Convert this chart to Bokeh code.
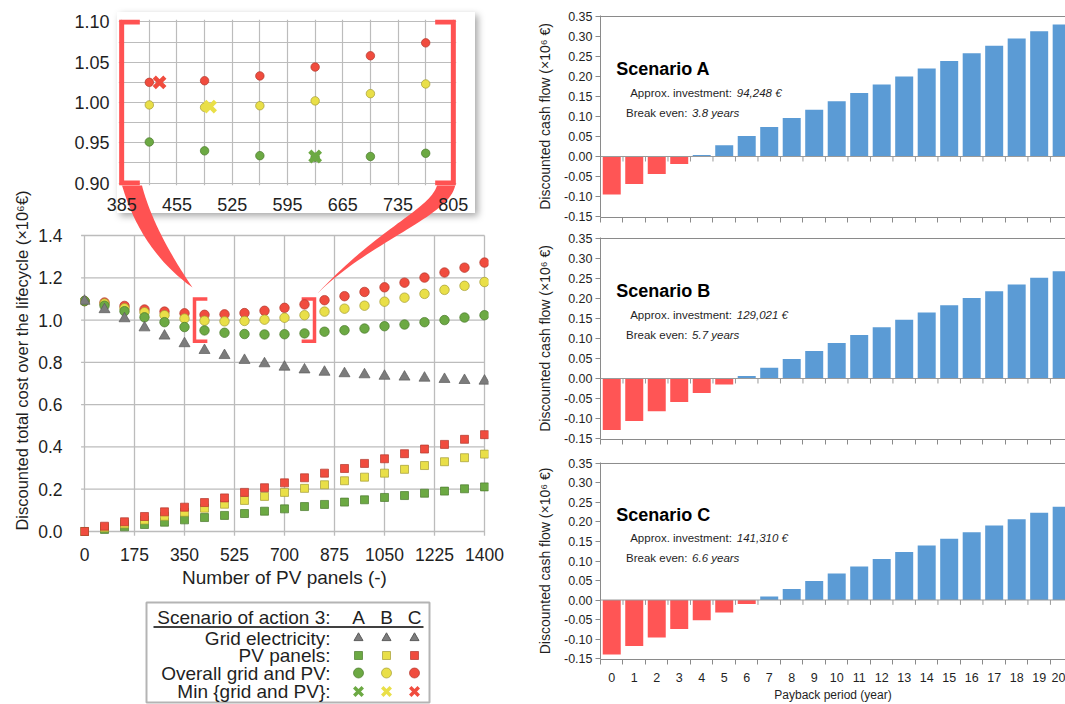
import numpy as np
from bokeh.plotting import figure
from bokeh.models import Range1d, FixedTicker, PrintfTickFormatter, Title, Span, Div
from bokeh.layouts import column, row
from bokeh.embed import file_html
from bokeh.resources import INLINE
from bokeh.core.properties import value

SANS = "Liberation Sans"

# ---------------- data: left panel (discounted total cost, x10^6 EUR)
panels = [0, 70, 140, 210, 280, 350, 420, 490, 560, 630, 700, 770, 840, 910, 980,
          1050, 1120, 1190, 1260, 1330, 1400]
grid_elec = [1.090, 1.050, 1.007, 0.964, 0.925, 0.889, 0.857, 0.833, 0.810, 0.794, 0.778,
             0.765, 0.754, 0.747, 0.742, 0.735, 0.731, 0.726, 0.720, 0.715, 0.712]
pv_A = [0.0, 0.010, 0.022, 0.033, 0.044, 0.055, 0.066, 0.076, 0.085, 0.096, 0.107,
        0.118, 0.128, 0.139, 0.150, 0.161, 0.170, 0.181, 0.191, 0.202, 0.211]
pv_B = [0.0, 0.018, 0.036, 0.054, 0.072, 0.091, 0.110, 0.129, 0.147, 0.166, 0.185,
        0.204, 0.221, 0.240, 0.257, 0.276, 0.294, 0.312, 0.330, 0.349, 0.366]
pv_C = [0.0, 0.025, 0.046, 0.071, 0.093, 0.115, 0.137, 0.159, 0.185, 0.207, 0.230,
        0.254, 0.276, 0.298, 0.322, 0.344, 0.368, 0.390, 0.412, 0.436, 0.458]
overall_A = [1.090, 1.068, 1.042, 1.013, 0.990, 0.967, 0.951, 0.940, 0.934, 0.932, 0.933,
             0.937, 0.945, 0.952, 0.960, 0.971, 0.979, 0.990, 1.000, 1.012, 1.023]
overall_B = [1.090, 1.078, 1.056, 1.037, 1.023, 1.007, 0.997, 0.994, 0.996, 1.002, 1.011,
             1.023, 1.040, 1.054, 1.068, 1.087, 1.106, 1.124, 1.143, 1.162, 1.180]
overall_C = [1.090, 1.083, 1.067, 1.050, 1.040, 1.032, 1.025, 1.027, 1.033, 1.044, 1.058,
             1.074, 1.094, 1.113, 1.133, 1.155, 1.177, 1.201, 1.225, 1.248, 1.272]
min_panels = [630, 497, 433]          # A, B, C
min_cost = [0.933, 0.995, 1.025]

x_ticks_main = [0, 175, 350, 525, 700, 875, 1050, 1225, 1400]
y_ticks_main = [0.0, 0.2, 0.4, 0.6, 0.8, 1.0, 1.2, 1.4]
inset_x_ticks = [385, 455, 525, 595, 665, 735, 805]
inset_x_minor = [420, 490, 560, 630, 700, 770]
inset_y_ticks = [0.90, 0.95, 1.00, 1.05, 1.10]
inset_y_minor = [0.925, 0.975, 1.025, 1.075]
zoom_x = [385, 805]
zoom_y = [0.90, 1.10]

# ---------------- data: right panels (discounted cash flow, x10^6 EUR)
years = [0, 1, 2, 3, 4, 5, 6, 7, 8, 9, 10, 11, 12, 13, 14, 15, 16, 17, 18, 19, 20]
cash_A = [-0.095, -0.069, -0.044, -0.019, 0.004, 0.028, 0.051, 0.074, 0.096, 0.117, 0.138,
          0.159, 0.180, 0.200, 0.220, 0.239, 0.258, 0.277, 0.295, 0.313, 0.330]
cash_B = [-0.129, -0.106, -0.082, -0.059, -0.036, -0.015, 0.006, 0.027, 0.049, 0.069, 0.089,
          0.109, 0.128, 0.147, 0.165, 0.183, 0.201, 0.218, 0.235, 0.252, 0.268]
cash_C = [-0.140, -0.118, -0.096, -0.074, -0.052, -0.032, -0.010, 0.009, 0.028, 0.049, 0.068,
          0.086, 0.105, 0.123, 0.140, 0.157, 0.174, 0.191, 0.207, 0.224, 0.239]
scenario_names = ["A", "B", "C"]
investments = ["94,248 €", "129,021 €", "141,310 €"]
break_even = ["3.8 years", "5.7 years", "6.6 years"]
y_ticks_cash = [-0.15, -0.10, -0.05, 0.0, 0.05, 0.10, 0.15, 0.20, 0.25, 0.30, 0.35]

# ---------------- colours
GREEN, GREEN_L = "#6ca943", "#4a7a2c"
YELLOW, YELLOW_L = "#e9df48", "#a49c34"
RED, RED_L = "#f04c3e", "#b2382c"
GRAY, GRAY_L = "#7c7c7c", "#5c5c5c"
CALL = "#ff5252"
GRIDC = "#bcbcbc"
BLUE = "#5b9bd5"
NEG = "#ff5555"
TXT = "#1f1f1f"

# all figures of the left column share the same side borders (bokeh aligns them)
LB, RB = 80, 32


def style_axis(ax, size, standoff=8):
    ax.axis_line_color = None
    ax.major_tick_line_color = None
    ax.minor_tick_line_color = None
    ax.major_label_text_font = SANS
    ax.major_label_text_font_size = size
    ax.major_label_text_color = TXT
    ax.major_label_standoff = standoff


# =============== main chart =================
main = figure(width=520, height=592, x_range=Range1d(-14, 1414), y_range=Range1d(-0.0284, 1.646),
              toolbar_location=None, output_backend="svg",
              min_border_left=LB, min_border_right=RB, min_border_top=183, min_border_bottom=55)
main.border_fill_alpha = 0
main.background_fill_alpha = 0
main.outline_line_color = None
main.grid.visible = False
main.xaxis.ticker = FixedTicker(ticks=x_ticks_main)
main.yaxis.ticker = FixedTicker(ticks=y_ticks_main)
main.yaxis.formatter = PrintfTickFormatter(format="%.1f")
style_axis(main.xaxis[0], "17.5px", standoff=4)
style_axis(main.yaxis[0], "17.5px", standoff=12)
main.xaxis.axis_label = "Number of PV panels (-)"
main.xaxis.axis_label_text_font = SANS
main.xaxis.axis_label_text_font_size = "19px"
main.xaxis.axis_label_text_font_style = "normal"
main.xaxis.axis_label_text_color = TXT
main.xaxis.axis_label_standoff = 3

# grid lines (with small outward ticks)
main.segment(x0=-12, y0=y_ticks_main, x1=x_ticks_main[-1], y1=y_ticks_main, line_color=GRIDC, line_width=1.3)
main.segment(x0=x_ticks_main, y0=-0.02, x1=x_ticks_main, y1=y_ticks_main[-1], line_color=GRIDC, line_width=1.3)

# zoom brackets on the main chart
arm = 45
main.multi_line(xs=[[zoom_x[0] + arm, zoom_x[0], zoom_x[0], zoom_x[0] + arm],
                    [zoom_x[1] - arm, zoom_x[1], zoom_x[1], zoom_x[1] - arm]],
                ys=[[zoom_y[0], zoom_y[0], zoom_y[1], zoom_y[1]]] * 2,
                line_color=CALL, line_width=3.5, line_join="miter")


# callout wedges (decoration), defined in page pixels, mapped to main-chart coordinates
def to_main(pts):
    pts = np.asarray(pts, float)
    return -14 + (pts[:, 0] - 80) * 3.5, -0.0284 + (537 - pts[:, 1]) / 211.42


def bez(ctrl, n=40):
    t = np.linspace(0, 1, n)[:, None]
    P = np.asarray(ctrl, float)
    if len(P) == 3:
        return (1 - t) ** 2 * P[0] + 2 * t * (1 - t) * P[1] + t ** 2 * P[2]
    return ((1 - t) ** 3 * P[0] + 3 * t * (1 - t) ** 2 * P[1]
            + 3 * t ** 2 * (1 - t) * P[2] + t ** 3 * P[3])


wl = np.vstack([bez([(121, 183), (140, 250), (192, 287)]),
                bez([(141, 183), (152, 228), (192, 287)])[::-1]])
wr = np.vstack([bez([(455, 183), (452, 215), (370, 240), (317, 293)]),
                bez([(437, 183), (432, 208), (380, 225), (317, 293)])[::-1]])
wlx, wly = to_main(wl)
wrx, wry = to_main(wr)
main.patches(xs=[list(wlx), list(wrx)], ys=[list(wly), list(wry)], fill_color=CALL, line_color=None)

# data marks
for pv, c, lc in [(pv_A, GREEN, GREEN_L), (pv_B, YELLOW, YELLOW_L), (pv_C, RED, RED_L)]:
    main.scatter(panels, pv, marker="square", size=8, fill_color=c, line_color=lc, line_width=0.7)
for ov, c, lc in [(overall_C, RED, RED_L), (overall_B, YELLOW, YELLOW_L), (overall_A, GREEN, GREEN_L)]:
    main.scatter(panels, ov, marker="circle", size=9.5, fill_color=c, line_color=lc, line_width=0.7)
main.scatter(panels, grid_elec, marker="triangle", size=11, fill_color=GRAY, line_color=GRAY_L, line_width=0.7)

main.add_layout(Title(text="Discounted total cost over the lifecycle (×10⁶€)", align="center",
                      offset=-22, text_font=SANS, text_font_size="16.5px",
                      text_font_style="normal", text_color=TXT), "left")
main.margin = (-213, 0, 0, 0)

# =============== inset =================
ins = figure(width=LB + 338 + RB, height=215, x_range=Range1d(381, 809), y_range=Range1d(0.897, 1.103),
             toolbar_location=None, output_backend="svg",
             min_border_left=LB, min_border_right=RB, min_border_top=19, min_border_bottom=30)
ins.border_fill_alpha = 0
ins.background_fill_color = "white"
ins.outline_line_color = None
tx = FixedTicker(ticks=inset_x_ticks, minor_ticks=inset_x_minor)
ty = FixedTicker(ticks=inset_y_ticks, minor_ticks=inset_y_minor)
ins.xaxis.ticker = tx
ins.yaxis.ticker = ty
ins.xgrid.ticker = tx
ins.ygrid.ticker = ty
ins.yaxis.formatter = PrintfTickFormatter(format="%.2f")
style_axis(ins.xaxis[0], "18px", standoff=6)
style_axis(ins.yaxis[0], "18px", standoff=3)
for g in (ins.xgrid[0], ins.ygrid[0]):
    g.grid_line_color = GRIDC
    g.grid_line_width = 1.2
    g.minor_grid_line_color = GRIDC
    g.minor_grid_line_width = 1.2
for ov, c, lc in [(overall_C, RED, RED_L), (overall_B, YELLOW, YELLOW_L), (overall_A, GREEN, GREEN_L)]:
    ins.scatter(panels, ov, marker="circle", size=8.5, fill_color=c, line_color=lc, line_width=0.7)
ins.scatter(min_panels, min_cost, marker="x", size=15, line_width=4.5,
            line_color=[GREEN, YELLOW, RED])
iarm = 23
ins.multi_line(xs=[[zoom_x[0] + iarm, zoom_x[0], zoom_x[0], zoom_x[0] + iarm],
                   [zoom_x[1] - iarm, zoom_x[1], zoom_x[1], zoom_x[1] - iarm]],
               ys=[[zoom_y[0], zoom_y[0], zoom_y[1], zoom_y[1]]] * 2,
               line_color=CALL, line_width=5, line_join="miter")
ins.margin = (-592, 0, 0, 118 - LB)

# shadowed box behind the inset
box = Div(text="", width=358, height=201, margin=(12, 0, 0, 117),
          styles={"background-color": "white", "box-shadow": "3px 3px 7px rgba(0,0,0,0.35)"})

# =============== legend table =================
leg = figure(width=520, height=112, x_range=Range1d(LB, 520 - RB), y_range=Range1d(112, 0),
             toolbar_location=None, output_backend="svg",
             min_border_left=LB, min_border_right=RB, min_border_top=0, min_border_bottom=0)
leg.axis.visible = False
leg.grid.visible = False
leg.outline_line_color = None
leg.quad(left=146, right=429, top=10, bottom=110, fill_color=None, line_color="#b4b4b4", line_width=2)
col_x = [358, 386, 414]
row_y = [45.5, 63, 80.5, 99]
leg.text(x=[330], y=[24.5], text=["Scenario of action 3:"], text_align="right", text_baseline="middle",
         text_font=value(SANS), text_font_size="19px", text_color=TXT)
leg.text(x=col_x, y=[24.5] * 3, text=scenario_names, text_align="center", text_baseline="middle",
         text_font=value(SANS), text_font_size="19px", text_color=TXT)
leg.segment(x0=[153], y0=[34.5], x1=[423], y1=[34.5], line_color="black", line_width=1.5)
leg.text(x=[330] * 4, y=row_y,
         text=["Grid electricity:", "PV panels:", "Overall grid and PV:", "Min {grid and PV}:"],
         text_align="right", text_baseline="middle",
         text_font=value(SANS), text_font_size="19px", text_color=TXT)
sc_fill = [GREEN, YELLOW, RED]
sc_line = [GREEN_L, YELLOW_L, RED_L]
leg.scatter(col_x, [row_y[0]] * 3, marker="triangle", size=9, fill_color=GRAY, line_color=GRAY_L)
leg.scatter(col_x, [row_y[1]] * 3, marker="square", size=8, fill_color=sc_fill, line_color=sc_line, line_width=0.7)
leg.scatter(col_x, [row_y[2]] * 3, marker="circle", size=10, fill_color=sc_fill, line_color=sc_line, line_width=0.7)
leg.scatter(col_x, [row_y[3]] * 3, marker="x", size=12, line_width=3.5, line_color=sc_fill)
leg.margin = (377, 0, 0, 0)

left = column(box, main, ins, leg)


# =============== right panels =================
def cash_fig(vals, idx, height, top, bottom, last):
    p = figure(width=545, height=height, x_range=Range1d(-0.5, 20.17), y_range=Range1d(-0.1525, 0.3525),
               toolbar_location=None, output_backend="svg",
               min_border_left=80, min_border_right=0, min_border_top=top, min_border_bottom=bottom)
    p.outline_line_color = None
    p.grid.visible = False
    p.yaxis.ticker = FixedTicker(ticks=y_ticks_cash)
    p.yaxis.formatter = PrintfTickFormatter(format="%.2f")
    ya = p.yaxis[0]
    ya.axis_line_color = "#8a8a8a"
    ya.major_tick_line_color = "#8a8a8a"
    ya.major_tick_out = 5
    ya.major_tick_in = 0
    ya.minor_tick_line_color = None
    ya.major_label_text_font = SANS
    ya.major_label_text_font_size = "12.5px"
    ya.major_label_text_color = TXT
    ya.major_label_standoff = 3
    ya.axis_label = "Discounted cash flow (×10⁶ €)"
    ya.axis_label_text_font = SANS
    ya.axis_label_text_font_size = "14px"
    ya.axis_label_text_font_style = "normal"
    ya.axis_label_text_color = TXT
    ya.axis_label_standoff = 8
    xa = p.xaxis[0]
    bnd = [y - 0.5 for y in years] + [years[-1] + 0.5]
    xa.ticker = FixedTicker(ticks=years if last else [], minor_ticks=bnd)
    xa.axis_line_color = "#8a8a8a"
    xa.major_tick_line_color = None
    xa.minor_tick_line_color = "#8a8a8a"
    xa.minor_tick_out = 5
    xa.minor_tick_in = 0
    xa.major_label_text_font = SANS
    xa.major_label_text_color = TXT
    xa.major_label_text_font_size = "12.5px"
    xa.major_label_standoff = 7
    if last:
        xa.axis_label = "Payback period (year)"
        xa.axis_label_text_font = SANS
        xa.axis_label_text_font_size = "12px"
        xa.axis_label_text_font_style = "normal"
        xa.axis_label_text_color = TXT
        xa.axis_label_standoff = 3
    p.add_layout(Span(location=y_ticks_cash[-1], dimension="width", line_color="#8a8a8a", line_width=1))
    colors = [NEG if v < 0 else BLUE for v in vals]
    p.vbar(x=years, top=vals, bottom=0, width=0.8, fill_color=colors, line_color=None)
    p.add_layout(Span(location=0, dimension="width", line_color="#9a9a9a", line_width=1))
    p.segment(x0=bnd, y0=0, x1=bnd, y1=-0.0125, line_color="#9a9a9a", line_width=1)
    p.text(x=[0.2], y=[0.219], text=["Scenario " + scenario_names[idx]], text_baseline="middle",
           text_font=value(SANS), text_font_style="bold", text_font_size="18px", text_color="black")
    p.text(x=[0.82], y=[0.159], text=["Approx. investment:"], text_baseline="middle",
           text_font=value(SANS), text_font_size="11.5px", text_color=TXT)
    p.text(x=[5.56], y=[0.159], text=[investments[idx]], text_baseline="middle",
           text_font=value(SANS), text_font_style="italic", text_font_size="11.5px", text_color=TXT)
    p.text(x=[0.636], y=[0.108], text=["Break even:"], text_baseline="middle",
           text_font=value(SANS), text_font_size="11.5px", text_color=TXT)
    p.text(x=[3.57], y=[0.108], text=[break_even[idx]], text_baseline="middle",
           text_font=value(SANS), text_font_style="italic", text_font_size="11.5px", text_color=TXT)
    return p


pA = cash_fig(cash_A, 0, 227, 15, 10, False)
pB = cash_fig(cash_B, 1, 222, 10, 10, False)
pC = cash_fig(cash_C, 2, 255, 13, 40, True)
right = column(pA, pB, pC)

layout = row(left, right)
open("out.html", "w").write(file_html(layout, INLINE))
